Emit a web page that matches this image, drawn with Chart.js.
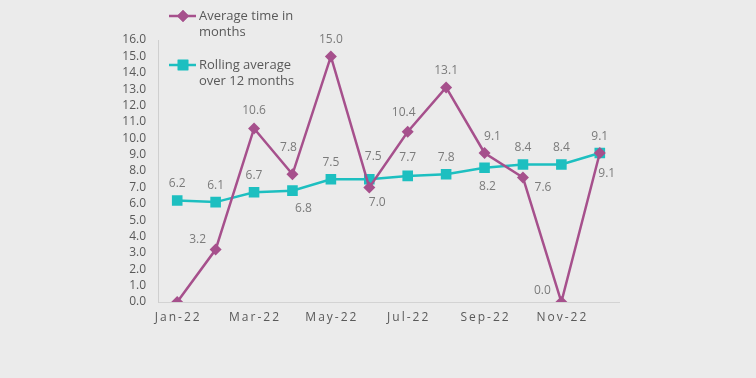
<!DOCTYPE html>
<html>
<head>
<meta charset="utf-8">
<script src="https://cdn.jsdelivr.net/npm/chart.js@4/dist/chart.umd.min.js"></script>
<style>
html,body{margin:0;padding:0;background:#ebebeb;}
#wrap{width:756px;height:378px;}
</style>
</head>
<body>
<div id="wrap"><canvas id="c" width="756" height="378"></canvas></div>
<script>
const categories = ['Jan-22','Feb-22','Mar-22','Apr-22','May-22','Jun-22','Jul-22','Aug-22','Sep-22','Oct-22','Nov-22','Dec-22'];
const averageTime = [0.0, 3.2, 10.6, 7.8, 15.0, 7.0, 10.4, 13.1, 9.1, 7.6, 0.0, 9.1];
const rollingAverage = [6.2, 6.1, 6.7, 6.8, 7.5, 7.5, 7.7, 7.8, 8.2, 8.4, 8.4, 9.1];
const seriesNames = [['Average time in', 'months'], ['Rolling average', 'over 12 months']];
const yTicks = {min: 0, max: 16, step: 1};

// label placement (style)
const avgLabelOffsets = [null, [-18,-10], [0,-18], [-4,-27], [0,-17], [8,15], [-4,-19], [0,-17], [8,-16], [20,10], [-19,-11], [7,21]];
const rollLabelOffsets = [[0,-17], [0,-17], [0,-17], [11,18], [0,-17], [4,-23], [0,-18], [0,-17], [3,19], [0,-17], [0,-17], [0,-16]];

const MAGENTA = '#a6508c';
const TEAL = '#1dbfc0';
const FONT = '"Open Sans", "Noto Sans", sans-serif';

const labelPlugin = {
  id: 'customDraw',
  afterDatasetsDraw(chart) {
    const ctx = chart.ctx;
    ctx.save();
    ctx.font = '12px ' + FONT;
    ctx.fillStyle = '#7b7b7b';
    ctx.textAlign = 'center';
    ctx.textBaseline = 'middle';
    const offs = [avgLabelOffsets, rollLabelOffsets];
    chart.data.datasets.forEach((ds, di) => {
      const meta = chart.getDatasetMeta(di);
      meta.data.forEach((pt, i) => {
        const o = offs[di][i];
        if (!o) return;
        ctx.fillText(ds.data[i].toFixed(1), pt.x + o[0], pt.y + o[1]);
      });
    });
    ctx.restore();
  },
  afterDraw(chart) {
    const ctx = chart.ctx;
    const xs = chart.scales.x;
    ctx.save();
    ctx.font = '12px ' + FONT;
    ctx.fillStyle = '#595959';
    ctx.textBaseline = 'middle';
    ctx.textAlign = 'left';
    const sp = 2;
    if ('letterSpacing' in ctx) ctx.letterSpacing = sp + 'px';
    categories.forEach((lab, i) => {
      if (i % 2 !== 0) return;
      const x = xs.getPixelForTick(i);
      const w = ctx.measureText(lab).width;
      const realW = ('letterSpacing' in ctx) ? w - sp : w;
      ctx.fillText(lab, x - realW / 2, 318);
    });
    if ('letterSpacing' in ctx) ctx.letterSpacing = '0px';
    const items = [
      {color: MAGENTA, style: 'rectRot', r: 6, y: 16},
      {color: TEAL, style: 'rect', r: 7.5, y: 65}
    ];
    ctx.font = '13px ' + FONT;
    items.forEach((it, k) => {
      ctx.strokeStyle = it.color;
      ctx.lineWidth = 2.5;
      ctx.beginPath();
      ctx.moveTo(169, it.y);
      ctx.lineTo(196, it.y);
      ctx.stroke();
      ctx.fillStyle = it.color;
      Chart.helpers.drawPoint(ctx, {pointStyle: it.style, radius: it.r, rotation: 0, borderWidth: 0}, 183, it.y);
      ctx.fill();
      ctx.fillStyle = '#595959';
      ctx.textAlign = 'left';
      seriesNames[k].forEach((line, li) => {
        ctx.fillText(line, 199, it.y + li * 16);
      });
    });
    ctx.restore();
  }
};

new Chart(document.getElementById('c'), {
  type: 'line',
  data: {
    labels: categories,
    datasets: [
      {
        label: seriesNames[0].join(' '),
        data: averageTime,
        borderColor: MAGENTA,
        backgroundColor: MAGENTA,
        borderWidth: 2.5,
        pointStyle: 'rectRot',
        pointRadius: 6,
        pointBorderWidth: 0,
        tension: 0
      },
      {
        label: seriesNames[1].join(' '),
        data: rollingAverage,
        borderColor: TEAL,
        backgroundColor: TEAL,
        borderWidth: 2.5,
        pointStyle: 'rect',
        pointRadius: 7.5,
        pointBorderWidth: 0,
        tension: 0
      }
    ]
  },
  options: {
    responsive: false,
    animation: false,
    devicePixelRatio: 1,
    layout: {padding: {left: 0, right: 137, top: 40, bottom: 76}},
    plugins: {legend: {display: false}, tooltip: {enabled: false}},
    scales: {
      x: {
        offset: true,
        grid: {display: false, drawTicks: false},
        border: {display: true, color: '#d3d3d3', width: 1},
        ticks: {display: false},
        afterFit(s) { s.height = 0; }
      },
      y: {
        min: yTicks.min,
        max: yTicks.max,
        grid: {display: false, drawTicks: false},
        border: {display: true, color: '#cfcfcf', width: 1, dash: [2, 2]},
        ticks: {
          stepSize: yTicks.step,
          autoSkip: false,
          maxTicksLimit: 50,
          padding: 12,
          color: '#595959',
          font: {family: FONT, size: 12},
          callback: v => Number(v).toFixed(1)
        },
        afterFit(s) { s.width = 158; }
      }
    }
  },
  plugins: [labelPlugin]
});
</script>
</body>
</html>
